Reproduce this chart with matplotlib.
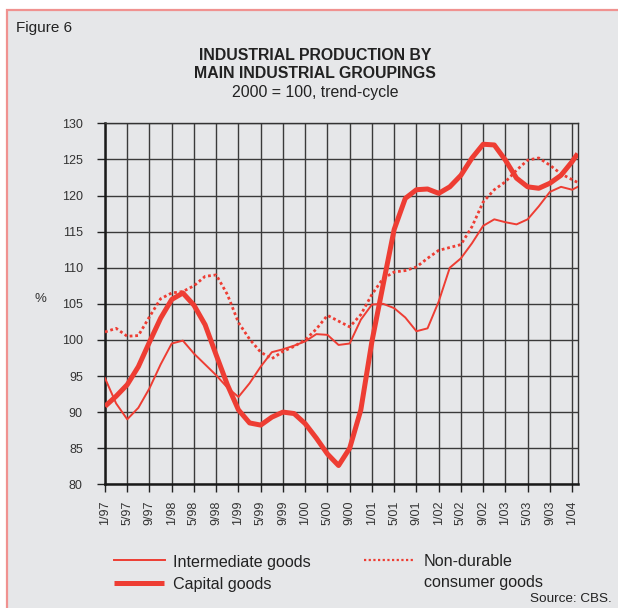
import matplotlib.pyplot as plt
from matplotlib.lines import Line2D
from matplotlib.patches import Rectangle

plt.rcParams['font.family'] = ['Liberation Sans', 'DejaVu Sans']

# months since 1/97, sampled every two months, last point at the right edge
months = list(range(0, 85, 2)) + [85]

intermediate = [94.7, 91.2, 89.0, 90.6, 93.3, 96.6, 99.5, 99.9, 98.1, 96.6,
                95.1, 93.4, 92.1, 94.0, 96.3, 98.3, 98.7, 99.2, 99.8, 100.8,
                100.7, 99.3, 99.5, 102.8, 104.9, 105.0, 104.4, 103.1, 101.2, 101.6,
                105.3, 110.0, 111.3, 113.4, 115.8, 116.7, 116.3, 116.0, 116.7, 118.5,
                120.5, 121.2, 120.8, 121.2]

capital = [90.8, 92.2, 93.8, 96.3, 99.7, 103.0, 105.6, 106.5, 104.8, 102.1,
           97.9, 93.8, 90.3, 88.5, 88.2, 89.3, 90.0, 89.8, 88.4, 86.4,
           84.2, 82.6, 85.0, 90.3, 99.8, 107.6, 115.3, 119.6, 120.8, 120.9,
           120.3, 121.2, 122.8, 125.2, 127.1, 127.0, 124.9, 122.4, 121.2, 121.0,
           121.7, 122.8, 124.7, 125.8]

non_durable = [101.1, 101.6, 100.5, 100.6, 103.2, 105.7, 106.5, 106.7, 107.5, 108.8,
               109.0, 106.3, 102.4, 100.1, 98.3, 97.4, 98.4, 99.1, 100.0, 101.5,
               103.4, 102.6, 101.8, 103.5, 106.3, 108.5, 109.4, 109.6, 110.1, 111.3,
               112.4, 112.8, 113.2, 115.7, 119.1, 120.8, 121.9, 123.5, 124.9, 125.2,
               124.2, 123.0, 122.2, 121.8]

tick_months = list(range(0, 85, 4))
tick_labels = ['1/97', '5/97', '9/97', '1/98', '5/98', '9/98', '1/99', '5/99',
               '9/99', '1/00', '5/00', '9/00', '1/01', '5/01', '9/01', '1/02',
               '5/02', '9/02', '1/03', '5/03', '9/03', '1/04']
y_ticks = [80, 85, 90, 95, 100, 105, 110, 115, 120, 125, 130]

red = '#ee3d33'
bg = '#e6e7e9'

fig = plt.figure(figsize=(6.18, 6.08), dpi=100, facecolor='white')
# panel with the pink frame on the left and top
fig.patches.append(Rectangle((7 / 618, -0.05), 1.1, 1 - 9.5 / 608 + 0.05,
                             transform=fig.transFigure, facecolor=bg,
                             edgecolor='#f09290', linewidth=1.6, zorder=-5))

ax = fig.add_axes([105 / 618, 1 - 484.3 / 608, 472.7 / 618, 361 / 608])
ax.set_zorder(1)
ax.set_facecolor(bg)

ax.plot(months, intermediate, color=red, lw=1.4, zorder=3)
ax.plot(months, capital, color=red, lw=3.6, zorder=4, solid_capstyle='butt')
ax.plot(months, non_durable, color=red, lw=2.0, linestyle=(0, (1, 1.0)), zorder=3)

ax.set_xlim(0, 85)
ax.set_ylim(80, 130)
ax.set_xticks(tick_months)
ax.set_xticklabels(tick_labels, rotation=90, fontsize=9, color='#333333')
ax.set_yticks(y_ticks)
ax.set_yticklabels([str(v) for v in y_ticks], fontsize=9, color='#333333')
ax.tick_params(axis='x', direction='out', length=5.5, width=1, pad=6, color='#222222')
ax.tick_params(axis='y', direction='out', length=6, width=1, pad=10, color='#222222')

ax.grid(True, color='#3a3a3a', lw=1.0)
ax.set_axisbelow(True)
for side in ['top', 'right']:
    ax.spines[side].set_linewidth(1.0)
    ax.spines[side].set_color('#333333')
for side in ['left', 'bottom']:
    ax.spines[side].set_linewidth(1.8)
    ax.spines[side].set_color('#1a1a1a')

fig.text(40 / 618, 1 - 299 / 608, '%', fontsize=9.5, ha='center', va='center', color='#333333')

# titles
fig.text(15.5 / 618, 1 - 28 / 608, 'Figure 6', fontsize=11, ha='left', va='center', color='#222222')
fig.text(315 / 618, 1 - 55 / 608, 'INDUSTRIAL PRODUCTION BY', fontsize=11.4, fontweight='bold',
         ha='center', va='center', color='#222222')
fig.text(315 / 618, 1 - 73.5 / 608, 'MAIN INDUSTRIAL GROUPINGS', fontsize=11.4, fontweight='bold',
         ha='center', va='center', color='#222222')
fig.text(315 / 618, 1 - 93 / 608, '2000 = 100, trend-cycle', fontsize=11.4,
         ha='center', va='center', color='#222222')

# legend
fig.add_artist(Line2D([114 / 618, 165 / 618], [1 - 560 / 608] * 2, color=red, lw=1.4,
                      transform=fig.transFigure))
fig.add_artist(Line2D([114 / 618, 164 / 618], [1 - 582.7 / 608] * 2, color=red, lw=3.6,
                      transform=fig.transFigure, solid_capstyle='butt'))
fig.add_artist(Line2D([364 / 618, 415 / 618], [1 - 560 / 608] * 2, color=red, lw=1.6,
                      linestyle=(0, (1, 1.1)), transform=fig.transFigure))
fig.text(173 / 618, 1 - 562 / 608, 'Intermediate goods', fontsize=11.6, ha='left', va='center', color='#222222')
fig.text(173 / 618, 1 - 585 / 608, 'Capital goods', fontsize=11.6, ha='left', va='center', color='#222222')
fig.text(424 / 618, 1 - 562 / 608, 'Non-durable', fontsize=11.6, ha='left', va='center', color='#222222')
fig.text(424 / 618, 1 - 582 / 608, 'consumer goods', fontsize=11.6, ha='left', va='center', color='#222222')
fig.text(612 / 618, 1 - 599 / 608, 'Source: CBS.', fontsize=9.7, ha='right', va='center', color='#222222')

fig.savefig('out.png', dpi=100, facecolor=fig.get_facecolor())
